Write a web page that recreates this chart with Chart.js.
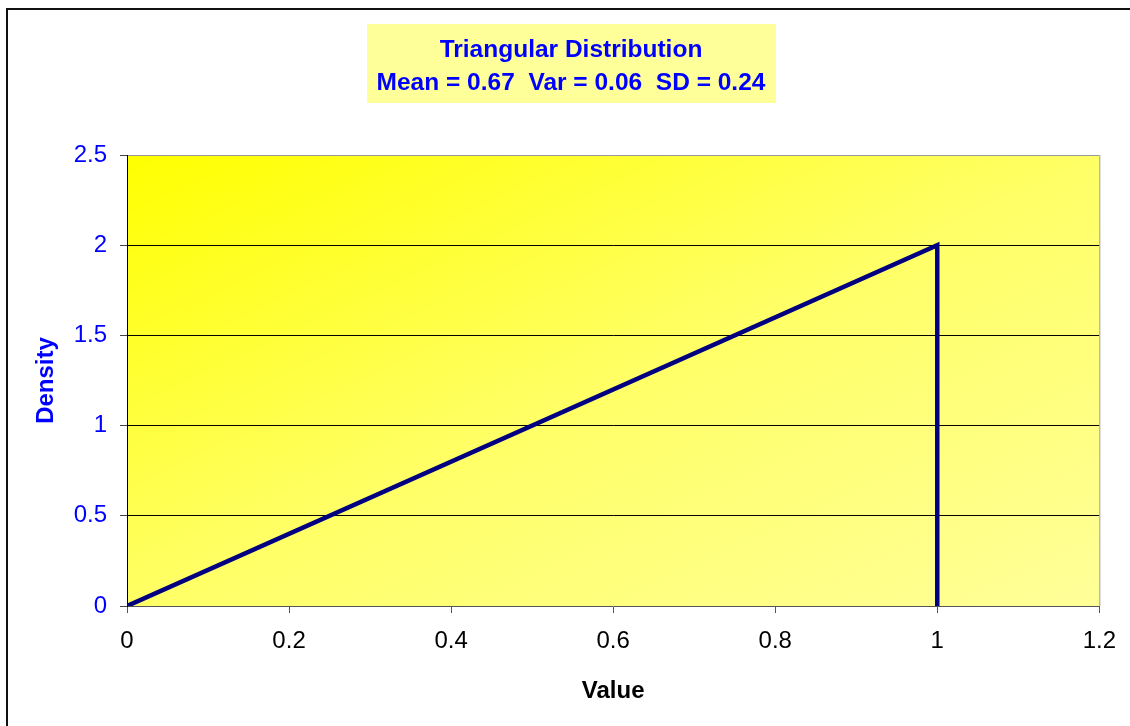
<!DOCTYPE html>
<html>
<head>
<meta charset="utf-8">
<title>Triangular Distribution</title>
<script src="https://cdn.jsdelivr.net/npm/chart.js@4.4.1/dist/chart.umd.min.js"></script>
<style>
    html, body { margin: 0; padding: 0; background: #fff; }
    #wrap { width: 1130px; height: 726px; position: relative; }
</style>
</head>
<body>
<div id="wrap"><canvas id="chart" width="1130" height="726"></canvas></div>
<script>
// data
const valuePoints = [0, 1, 1];
const densityPoints = [0, 2, 0];
const xTickValues = [0, 0.2, 0.4, 0.6, 0.8, 1, 1.2];
const yTickValues = [0, 0.5, 1, 1.5, 2, 2.5];
const titleLines = ['Triangular Distribution', 'Mean = 0.67  Var = 0.06  SD = 0.24'];

const FONT = '"Liberation Sans", Arial, sans-serif';

// plot background gradient, outer frame and title box
const excelLook = {
    id: 'excelLook',
    beforeDraw(chart) {
        const {ctx, chartArea: a} = chart;
        ctx.save();
        ctx.translate(a.left, a.top);
        ctx.scale(a.right - a.left, a.bottom - a.top);
        const g = ctx.createLinearGradient(0, 0, 1, 1);
        g.addColorStop(0, '#FFFF00');
        g.addColorStop(0.5, '#FFFF66');
        g.addColorStop(1, '#FFFF99');
        ctx.fillStyle = g;
        ctx.fillRect(0, 0, 1, 1);
        ctx.restore();
    },
    afterDraw(chart) {
        const {ctx, chartArea: a} = chart;
        ctx.save();
        // right edge of plot
        ctx.strokeStyle = '#999';
        ctx.lineWidth = 1;
        ctx.beginPath();
        ctx.moveTo(a.right + 0.5, a.top);
        ctx.lineTo(a.right + 0.5, a.bottom);
        ctx.stroke();
        // outer frame (only top and left are visible)
        ctx.fillStyle = '#111';
        ctx.fillRect(6, 8, 1130, 2);
        ctx.fillRect(6, 8, 2, 726);
        // title box
        ctx.fillStyle = '#FFFF99';
        ctx.fillRect(367, 24, 409, 79);
        ctx.fillStyle = '#0000FF';
        ctx.font = 'bold 24.5px ' + FONT;
        ctx.textAlign = 'center';
        ctx.textBaseline = 'alphabetic';
        ctx.fillText(titleLines[0], 571, 57);
        ctx.fillText(titleLines[1], 571, 90);
        ctx.restore();
    }
};

const fmt = v => String(Math.round(v * 10) / 10);

new Chart(document.getElementById('chart'), {
    type: 'scatter',
    data: {
        datasets: [{
            label: 'Density',
            data: valuePoints.map((x, i) => ({x: x, y: densityPoints[i]})),
            showLine: true,
            borderColor: '#000080',
            backgroundColor: '#000080',
            borderWidth: 4.5,
            pointRadius: 0,
            pointHoverRadius: 0,
            tension: 0
        }]
    },
    options: {
        responsive: false,
        animation: false,
        layout: {
            padding: {top: 155, right: 30, left: 0, bottom: 0}
        },
        plugins: {
            legend: {display: false},
            tooltip: {enabled: false}
        },
        scales: {
            x: {
                type: 'linear',
                min: 0,
                max: 1.2,
                afterBuildTicks: s => { s.ticks = xTickValues.map(v => ({value: v})); },
                afterFit: s => { s.height = 120; },
                ticks: {
                    color: '#000',
                    font: {family: FONT, size: 24},
                    padding: 14,
                    callback: fmt,
                    maxRotation: 0,
                    autoSkip: false
                },
                grid: {
                    drawOnChartArea: false,
                    drawTicks: true,
                    tickLength: 7,
                    tickColor: '#555'
                },
                border: {color: '#555', width: 1},
                title: {
                    display: true,
                    text: 'Value',
                    color: '#000',
                    font: {family: FONT, size: 24, weight: 'bold'},
                    padding: {top: 0, bottom: 20}
                }
            },
            y: {
                type: 'linear',
                min: 0,
                max: 2.5,
                afterBuildTicks: s => { s.ticks = yTickValues.map(v => ({value: v})); },
                afterFit: s => { s.width = 127; },
                ticks: {
                    color: '#0000FF',
                    font: {family: FONT, size: 24},
                    padding: 13,
                    callback: fmt,
                    autoSkip: false
                },
                grid: {
                    color: ctx => ctx.tick && ctx.tick.value === 2.5 ? '#999' : (ctx.tick && ctx.tick.value === 0 ? 'rgba(0,0,0,0)' : '#000'),
                    lineWidth: 1,
                    drawTicks: true,
                    tickLength: 7,
                    tickColor: '#444'
                },
                border: {color: '#000', width: 1},
                title: {
                    display: true,
                    text: 'Density',
                    color: '#0000FF',
                    font: {family: FONT, size: 24, weight: 'bold'},
                    padding: {top: 32, bottom: 0}
                }
            }
        }
    },
    plugins: [excelLook]
});
</script>
</body>
</html>
